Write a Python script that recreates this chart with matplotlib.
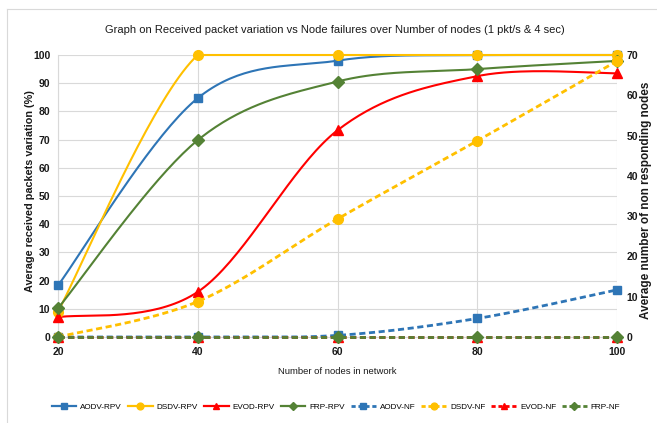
import numpy as np
import matplotlib
matplotlib.use("Agg")
import matplotlib.pyplot as plt
from matplotlib.lines import Line2D

FONT = "Liberation Sans"

nodes = [20, 40, 60, 80, 100]
aodv_rpv = [18.3, 84.7, 98.0, 100.0, 100.0]
dsdv_rpv = [9.0, 100.0, 100.0, 100.0, 100.0]
evod_rpv = [7.0, 16.0, 73.3, 92.5, 93.5]
frp_rpv = [10.2, 69.8, 90.6, 95.0, 97.9]
aodv_nf = [0.0, 0.0, 0.4, 4.6, 11.7]
dsdv_nf = [0.0, 8.8, 29.3, 48.7, 68.5]
evod_nf = [0.0, 0.0, 0.0, 0.0, 0.0]
frp_nf = [0.0, 0.0, 0.0, 0.0, 0.0]

left_ticks = list(range(0, 101, 10))
right_ticks = list(range(0, 71, 10))

BLUE = "#2E75B6"
YELLOW = "#FFC000"
RED = "#FF0000"
GREEN = "#548235"
TXT = "#1a1a1a"


def smooth(x, y, n=40):
    P = np.column_stack([np.asarray(x, float), np.asarray(y, float)])
    out = []
    m = len(P)
    for i in range(m - 1):
        p0 = P[i - 1] if i > 0 else P[i]
        p1 = P[i]
        p2 = P[i + 1]
        p3 = P[i + 2] if i + 2 < m else P[i + 1]
        c1 = p1 + (p2 - p0) / 6.0
        c2 = p2 - (p3 - p1) / 6.0
        t = np.linspace(0, 1, n)[:, None]
        seg = ((1 - t) ** 3) * p1 + 3 * ((1 - t) ** 2) * t * c1 + 3 * (1 - t) * t ** 2 * c2 + t ** 3 * p2
        if i > 0:
            seg = seg[1:]
        out.append(seg)
    out = np.vstack(out)
    return out[:, 0], out[:, 1]


W, H = 657, 423
fig = plt.figure(figsize=(W / 100, H / 100), dpi=100)
fig.patch.set_facecolor("white")
fig.add_artist(Line2D([7 / W, 7 / W], [0, 1 - 9 / H], transform=fig.transFigure, color="#D9D9D9", lw=0.8))
fig.add_artist(Line2D([7 / W, 1], [1 - 9 / H, 1 - 9 / H], transform=fig.transFigure, color="#D9D9D9", lw=0.8))

ax = fig.add_axes([58 / W, 1 - 337 / H, (617 - 58) / W, (337 - 55) / H])
ax2 = ax.twinx()

rpv = [
    ("AODV-RPV", aodv_rpv, BLUE, "s", 5.5),
    ("DSDV-RPV", dsdv_rpv, YELLOW, "o", 7),
    ("EVOD-RPV", evod_rpv, RED, "^", 6.5),
    ("FRP-RPV", frp_rpv, GREEN, "D", 6),
]
nf = [
    ("AODV-NF", aodv_nf, BLUE, "s", 5.5),
    ("DSDV-NF", dsdv_nf, YELLOW, "o", 7),
    ("EVOD-NF", evod_nf, RED, "^", 6.5),
    ("FRP-NF", frp_nf, GREEN, "D", 6),
]

handles = []
for name, vals, c, mk, ms in rpv:
    sx, sy = smooth(nodes, vals)
    sy = np.minimum(sy, 100)
    ax.plot(sx, sy, color=c, lw=1.5, zorder=3, clip_on=False)
    ax.plot(nodes, vals, ls="none", marker=mk, color=c, ms=ms, zorder=4, clip_on=False)
    handles.append(Line2D([], [], color=c, lw=1.6, marker=mk, ms=ms * 0.7, label=name))
for name, vals, c, mk, ms in nf:
    sx, sy = smooth(nodes, vals)
    sy = np.clip(sy, 0, 70)
    ax2.plot(sx, sy, color=c, lw=2.0, ls=(0, (2.2, 1.3)), zorder=3, clip_on=False)
    ax2.plot(nodes, vals, ls="none", marker=mk, color=c, ms=ms, zorder=4, clip_on=False)
    handles.append(Line2D([], [], color=c, lw=2.0, ls=(0, (1.5, 1.0)), marker=mk, ms=ms * 0.7, label=name))

ax.set_xlim(20, 100)
ax.set_ylim(0, 100)
ax2.set_ylim(0, 70)
ax.set_xticks(nodes)
ax.set_yticks(left_ticks)
ax2.set_yticks(right_ticks)
ax.grid(True, color="#D9D9D9", lw=0.8)
ax.set_axisbelow(True)
for a in (ax, ax2):
    for s in a.spines.values():
        s.set_visible(False)
    a.tick_params(length=0, labelsize=7.5, colors=TXT)
    for lab in a.get_xticklabels() + a.get_yticklabels():
        lab.set_family(FONT)
        lab.set_fontweight("bold")
ax.spines["left"].set_visible(True)
ax.spines["left"].set_color("#D9D9D9")
ax.spines["bottom"].set_visible(True)
ax.spines["bottom"].set_color("#D9D9D9")
ax.tick_params(axis="x", pad=7)
ax.tick_params(axis="y", pad=5.5)
ax2.tick_params(axis="y", pad=7)

ax.set_xlabel("Number of nodes in network", fontsize=7.5, color=TXT, family=FONT)
ax.xaxis.set_label_coords(0.5, -(371 - 337) / 282)
ax.xaxis.label.set_va("center")
ax.set_ylabel("Average received packets variation (%)", fontsize=8, fontweight="bold", color=TXT, family=FONT)
ax.yaxis.set_label_coords((30 - 58) / 559, (337 - 191) / 282)
ax.yaxis.label.set_va("center")
ax2.set_ylabel("Average number of non responding nodes", fontsize=8, fontweight="bold", color=TXT, family=FONT)
ax2.yaxis.set_label_coords((646 - 58) / 559, (337 - 200) / 282)
ax2.yaxis.label.set_va("center")

title = fig.text(335 / W, 1 - 30 / H,
                 "Graph on Received packet variation vs Node failures over Number of nodes (1 pkt/s & 4 sec)",
                 ha="center", va="center", fontsize=9, color=TXT, family=FONT)

fig.canvas.draw()
r = fig.canvas.get_renderer()


def fit(txt, target, horizontal=True):
    bb = txt.get_window_extent(r)
    cur = bb.width if horizontal else bb.height
    txt.set_fontsize(txt.get_fontsize() * target / cur)


fit(title, 461)
fit(ax.yaxis.label, 203, horizontal=False)
fit(ax2.yaxis.label, 238, horizontal=False)
fit(ax.xaxis.label, 118)


def make_legend(size):
    return fig.legend(handles=handles, loc="center", bbox_to_anchor=(336 / W, 1 - 407 / H), ncol=8,
                      frameon=False, handlelength=3.0, columnspacing=0.75, handletextpad=0.5,
                      borderpad=0.0, borderaxespad=0.0, prop=dict(family=FONT, size=size))


leg = make_legend(6.0)
fig.canvas.draw()
w = leg.get_window_extent(r).width
leg.remove()
leg = make_legend(6.0 * 572 / w)

fig.savefig("out.png", dpi=100, facecolor="white")
